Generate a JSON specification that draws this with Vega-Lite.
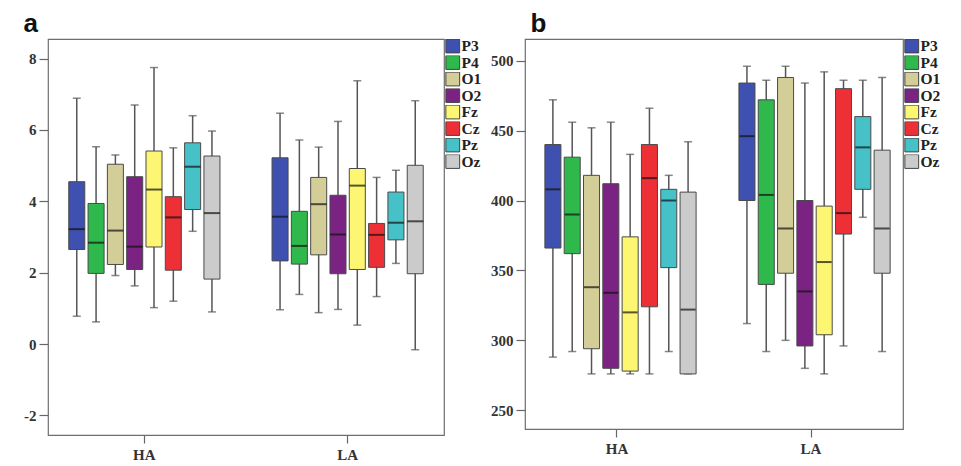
{
  "$schema": "https://vega.github.io/schema/vega-lite/v6.json",
  "padding": {"left": 22, "top": 10, "right": 0, "bottom": 0},
  "background": "white",
  "datasets": {
    "panelA": [
      {"group": "HA", "electrode": "P3", "min": 0.78, "q1": 2.65, "median": 3.22, "q3": 4.55, "max": 6.89},
      {"group": "HA", "electrode": "P4", "min": 0.62, "q1": 1.98, "median": 2.84, "q3": 3.94, "max": 5.53},
      {"group": "HA", "electrode": "O1", "min": 1.92, "q1": 2.23, "median": 3.18, "q3": 5.04, "max": 5.30},
      {"group": "HA", "electrode": "O2", "min": 1.63, "q1": 2.09, "median": 2.73, "q3": 4.69, "max": 6.70},
      {"group": "HA", "electrode": "Fz", "min": 1.02, "q1": 2.72, "median": 4.33, "q3": 5.41, "max": 7.75},
      {"group": "HA", "electrode": "Cz", "min": 1.20, "q1": 2.07, "median": 3.55, "q3": 4.13, "max": 5.50},
      {"group": "HA", "electrode": "Pz", "min": 3.16, "q1": 3.77, "median": 4.97, "q3": 5.64, "max": 6.40},
      {"group": "HA", "electrode": "Oz", "min": 0.90, "q1": 1.82, "median": 3.67, "q3": 5.27, "max": 5.97},
      {"group": "LA", "electrode": "P3", "min": 0.96, "q1": 2.33, "median": 3.57, "q3": 5.22, "max": 6.47},
      {"group": "LA", "electrode": "P4", "min": 1.39, "q1": 2.24, "median": 2.75, "q3": 3.72, "max": 5.72},
      {"group": "LA", "electrode": "O1", "min": 0.88, "q1": 2.50, "median": 3.92, "q3": 4.67, "max": 5.52},
      {"group": "LA", "electrode": "O2", "min": 0.97, "q1": 1.97, "median": 3.07, "q3": 4.17, "max": 6.24},
      {"group": "LA", "electrode": "Fz", "min": 0.53, "q1": 2.09, "median": 4.44, "q3": 4.92, "max": 7.38},
      {"group": "LA", "electrode": "Cz", "min": 1.33, "q1": 2.15, "median": 3.06, "q3": 3.38, "max": 4.67},
      {"group": "LA", "electrode": "Pz", "min": 2.26, "q1": 2.92, "median": 3.40, "q3": 4.26, "max": 4.87},
      {"group": "LA", "electrode": "Oz", "min": -0.16, "q1": 1.97, "median": 3.44, "q3": 5.01, "max": 6.82}
    ],
    "panelB": [
      {"group": "HA", "electrode": "P3", "min": 288, "q1": 366, "median": 408, "q3": 440, "max": 472},
      {"group": "HA", "electrode": "P4", "min": 292, "q1": 362, "median": 390, "q3": 431, "max": 456},
      {"group": "HA", "electrode": "O1", "min": 276, "q1": 294, "median": 338, "q3": 418, "max": 452},
      {"group": "HA", "electrode": "O2", "min": 276, "q1": 280, "median": 334, "q3": 412, "max": 456},
      {"group": "HA", "electrode": "Fz", "min": 276, "q1": 278, "median": 320, "q3": 374, "max": 433},
      {"group": "HA", "electrode": "Cz", "min": 276, "q1": 324, "median": 416, "q3": 440, "max": 466},
      {"group": "HA", "electrode": "Pz", "min": 292, "q1": 352, "median": 400, "q3": 408, "max": 418},
      {"group": "HA", "electrode": "Oz", "min": 276, "q1": 276, "median": 322, "q3": 406, "max": 442},
      {"group": "LA", "electrode": "P3", "min": 312, "q1": 400, "median": 446, "q3": 484, "max": 496},
      {"group": "LA", "electrode": "P4", "min": 292, "q1": 340, "median": 404, "q3": 472, "max": 486},
      {"group": "LA", "electrode": "O1", "min": 300, "q1": 348, "median": 380, "q3": 488, "max": 496},
      {"group": "LA", "electrode": "O2", "min": 280, "q1": 296, "median": 335, "q3": 400, "max": 484},
      {"group": "LA", "electrode": "Fz", "min": 276, "q1": 304, "median": 356, "q3": 396, "max": 492},
      {"group": "LA", "electrode": "Cz", "min": 296, "q1": 376, "median": 391, "q3": 480, "max": 486},
      {"group": "LA", "electrode": "Pz", "min": 388, "q1": 408, "median": 438, "q3": 460, "max": 486},
      {"group": "LA", "electrode": "Oz", "min": 292, "q1": 348, "median": 380, "q3": 436, "max": 488}
    ]
  },
  "spacing": 6,
  "resolve": {
    "scale": {"y": "independent", "color": "independent"},
    "legend": {"color": "independent"}
  },
  "hconcat": [
    {
      "title": {"text": "a", "offset": 2},
      "width": 396,
      "height": 396,
      "data": {"name": "panelA"},
      "encoding": {
        "x": {"field": "group", "type": "nominal", "title": null,
              "scale": {"paddingInner": 0.24, "paddingOuter": 0.094},
              "axis": {"labelAngle": 0}},
        "xOffset": {"field": "electrode", "type": "nominal",
                    "sort": ["P3", "P4", "O1", "O2", "Fz", "Cz", "Pz", "Oz"],
                    "scale": {"paddingInner": 0.17, "paddingOuter": 0.085}},
        "color": {"field": "electrode", "type": "nominal", "title": null,
                  "sort": ["P3", "P4", "O1", "O2", "Fz", "Cz", "Pz", "Oz"],
                  "scale": {"domain": ["P3", "P4", "O1", "O2", "Fz", "Cz", "Pz", "Oz"],
                            "range": ["#3f51b0", "#2fb84b", "#d3cd97", "#7b2383", "#fdf672", "#ec3036", "#47c1c8", "#cbcbcb"]}}
      },
      "layer": [
        {"mark": {"type": "rule", "color": "#555555", "strokeWidth": 1.5},
         "encoding": {"y": {"field": "min", "type": "quantitative",
                            "scale": {"domain": [-2.55, 8.55], "nice": false, "zero": false},
                            "axis": {"values": [-2, 0, 2, 4, 6, 8]}, "title": null},
                      "y2": {"field": "max"}, "color": {"value": "#555555"}}},
        {"mark": {"type": "tick", "orient": "horizontal", "size": 8, "thickness": 1.5, "color": "#555555"},
         "encoding": {"y": {"field": "min", "type": "quantitative"}, "color": {"value": "#555555"}}},
        {"mark": {"type": "tick", "orient": "horizontal", "size": 8, "thickness": 1.5, "color": "#555555"},
         "encoding": {"y": {"field": "max", "type": "quantitative"}, "color": {"value": "#555555"}}},
        {"mark": {"type": "bar", "stroke": "#4a4a4a", "strokeWidth": 1, "opacity": 1},
         "encoding": {"y": {"field": "q1", "type": "quantitative"}, "y2": {"field": "q3"}}},
        {"mark": {"type": "tick", "orient": "horizontal", "size": 16, "thickness": 2, "color": "#111111"},
         "encoding": {"y": {"field": "median", "type": "quantitative"}, "color": {"value": "#111111"}}}
      ]
    },
    {
      "title": {"text": "b", "offset": 2, "dx": 40},
      "width": 378,
      "height": 390,
      "data": {"name": "panelB"},
      "encoding": {
        "x": {"field": "group", "type": "nominal", "title": null,
              "scale": {"paddingInner": 0.24, "paddingOuter": 0.094},
              "axis": {"labelAngle": 0}},
        "xOffset": {"field": "electrode", "type": "nominal",
                    "sort": ["P3", "P4", "O1", "O2", "Fz", "Cz", "Pz", "Oz"],
                    "scale": {"paddingInner": 0.17, "paddingOuter": 0.085}},
        "color": {"field": "electrode", "type": "nominal", "title": null,
                  "sort": ["P3", "P4", "O1", "O2", "Fz", "Cz", "Pz", "Oz"],
                  "scale": {"domain": ["P3", "P4", "O1", "O2", "Fz", "Cz", "Pz", "Oz"],
                            "range": ["#3f51b0", "#2fb84b", "#d3cd97", "#7b2383", "#fdf672", "#ec3036", "#47c1c8", "#cbcbcb"]}}
      },
      "layer": [
        {"mark": {"type": "rule", "color": "#555555", "strokeWidth": 1.5},
         "encoding": {"y": {"field": "min", "type": "quantitative",
                            "scale": {"domain": [236.6, 515.5], "nice": false, "zero": false},
                            "axis": {"values": [250, 300, 350, 400, 450, 500]}, "title": null},
                      "y2": {"field": "max"}, "color": {"value": "#555555"}}},
        {"mark": {"type": "tick", "orient": "horizontal", "size": 8, "thickness": 1.5, "color": "#555555"},
         "encoding": {"y": {"field": "min", "type": "quantitative"}, "color": {"value": "#555555"}}},
        {"mark": {"type": "tick", "orient": "horizontal", "size": 8, "thickness": 1.5, "color": "#555555"},
         "encoding": {"y": {"field": "max", "type": "quantitative"}, "color": {"value": "#555555"}}},
        {"mark": {"type": "bar", "stroke": "#4a4a4a", "strokeWidth": 1, "opacity": 1},
         "encoding": {"y": {"field": "q1", "type": "quantitative"}, "y2": {"field": "q3"}}},
        {"mark": {"type": "tick", "orient": "horizontal", "size": 15, "thickness": 2, "color": "#111111"},
         "encoding": {"y": {"field": "median", "type": "quantitative"}, "color": {"value": "#111111"}}}
      ]
    }
  ],
  "config": {
    "view": {"stroke": "#6e6e6e", "strokeWidth": 1.2},
    "title": {"font": "Liberation Sans", "fontSize": 26, "fontWeight": "bold", "color": "#111111",
              "anchor": "start", "frame": "bounds"},
    "axis": {"labelFont": "Liberation Serif", "labelFontWeight": "bold", "labelFontSize": 15,
             "labelColor": "#333333", "domain": false, "grid": false,
             "tickColor": "#666666", "tickWidth": 1.2},
    "axisY": {"tickSize": 9, "labelPadding": 3, "labelExpr": "replace(datum.label, '\u2212', '-')"},
    "axisX": {"tickSize": 8, "labelPadding": 4},
    "legend": {"orient": "right", "offset": 1, "padding": 0, "symbolType": "square", "symbolSize": 190,
               "symbolStrokeColor": "#444444", "symbolStrokeWidth": 1, "symbolOpacity": 1,
               "labelFont": "Liberation Serif", "labelFontWeight": "bold", "labelFontSize": 15.5,
               "labelColor": "#222222", "labelOffset": 1, "rowPadding": 0.5, "clipHeight": 14}
  }
}
